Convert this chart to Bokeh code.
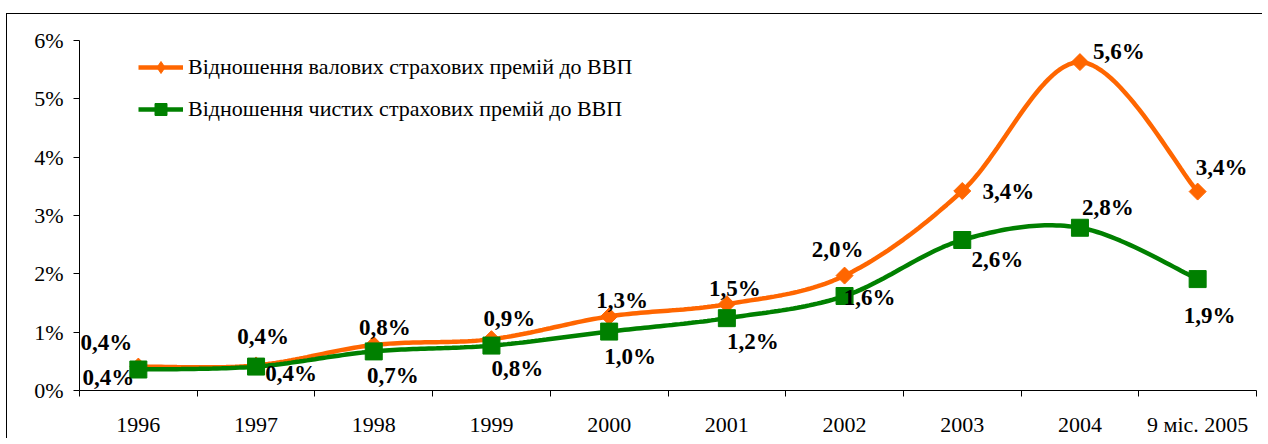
from bokeh.plotting import figure
from bokeh.models import (Range1d, FixedTicker, Legend, LegendItem, ColumnDataSource)
from bokeh.core.properties import value
from bokeh.embed import file_html
from bokeh.resources import INLINE
import numpy as np

# ---- data ----
categories = ["1996", "1997", "1998", "1999", "2000", "2001", "2002", "2003", "2004", "9 міс. 2005"]
gross = [0.41, 0.43, 0.78, 0.88, 1.27, 1.48, 1.97, 3.42, 5.63, 3.41]
net = [0.36, 0.41, 0.67, 0.77, 1.01, 1.24, 1.62, 2.58, 2.79, 1.91]
gross_labels = ["0,4%", "0,4%", "0,8%", "0,9%", "1,3%", "1,5%", "2,0%", "3,4%", "5,6%", "3,4%"]
net_labels = ["0,4%", "0,4%", "0,7%", "0,8%", "1,0%", "1,2%", "1,6%", "2,6%", "2,8%", "1,9%"]
y_ticks = [0, 1, 2, 3, 4, 5, 6]
y_tick_labels = ["0%", "1%", "2%", "3%", "4%", "5%", "6%"]
series_names = ["Відношення валових страхових премій до ВВП",
                "Відношення чистих страхових премій до ВВП"]

# ---- label offsets (screen px) ----
gross_dx = [-32, 7, 11, 18, 13, 8, -7, 46, 39, 24]
gross_dy = [-24, -29, -18, -21, -16, -16, -26, 0, -11, -24]
net_dx = [-30, 35, 19, 26, 21, 26, 25, 35, 28, 12]
net_dy = [8, 7, 24, 23, 25, 23, 1, 19, -20, 36]

ORANGE = "#FF6600"
GREEN = "#008000"
SERIF = "Liberation Serif"

xs = list(range(len(categories)))


def smooth(xv, yv, n=30):
    """Excel-like smoothed line: Catmull-Rom Bezier through the points."""
    P = np.column_stack([xv, yv]).astype(float)
    out = []
    m = len(P)
    for i in range(m - 1):
        p0 = P[i - 1] if i > 0 else P[i]
        p1 = P[i]
        p2 = P[i + 1]
        p3 = P[i + 2] if i + 2 < m else P[i + 1]
        c1 = p1 + (p2 - p0) / 6.0
        c2 = p2 - (p3 - p1) / 6.0
        t = np.linspace(0, 1, n, endpoint=(i == m - 2))[:, None]
        seg = ((1 - t) ** 3) * p1 + 3 * ((1 - t) ** 2) * t * c1 + 3 * (1 - t) * t * t * c2 + t ** 3 * p2
        out.append(seg)
    arr = np.vstack(out)
    return arr[:, 0], arr[:, 1]


p = figure(width=1256, height=425, output_backend="svg", toolbar_location=None,
           x_range=Range1d(-0.5, len(categories) - 0.5), y_range=Range1d(0, 6),
           min_border_left=72, min_border_right=7, min_border_top=26, min_border_bottom=47)
p.styles = {"border-top": "1px solid black", "border-left": "1px solid black",
            "margin-top": "13px", "margin-left": "6px"}
p.outline_line_color = None
p.xgrid.visible = False
p.ygrid.visible = False
p.background_fill_color = "white"
p.border_fill_color = "white"

# x axis: ticks between categories, labels at category centres
xa = p.xaxis[0]
xa.ticker = FixedTicker(ticks=xs, minor_ticks=[x - 0.5 for x in xs] + [xs[-1] + 0.5])
xa.major_label_overrides = {x: c for x, c in zip(xs, categories)}
xa.major_tick_out = 0
xa.major_tick_in = 0
xa.minor_tick_out = 6
xa.minor_tick_in = 0
xa.minor_tick_line_color = "black"
xa.axis_line_color = "black"
xa.major_label_text_font = SERIF
xa.major_label_text_font_size = "22px"
xa.major_label_text_color = "black"
xa.major_label_standoff = 15

ya = p.yaxis[0]
ya.ticker = FixedTicker(ticks=y_ticks, minor_ticks=[])
ya.major_label_overrides = {t: l for t, l in zip(y_ticks, y_tick_labels)}
ya.major_tick_out = 6
ya.major_tick_in = 0
ya.axis_line_color = "black"
ya.major_label_text_font = SERIF
ya.major_label_text_font_size = "22px"
ya.major_label_text_color = "black"
ya.major_label_standoff = 10

gx, gy = smooth(xs, gross)
nx, ny = smooth(xs, net)

g_line = p.line(gx, gy, line_color=ORANGE, line_width=4.5)
n_line = p.line(nx, ny, line_color=GREEN, line_width=4.5)
g_pts = p.scatter(xs, gross, marker="square", angle=np.pi / 4, size=12,
                  fill_color=ORANGE, line_color=ORANGE)
n_pts = p.scatter(xs, net, marker="square", size=17, fill_color=GREEN, line_color=GREEN)
# legend-only diamond glyph (undrawn NaN point)
g_key = p.scatter(x=[np.nan], y=[np.nan], marker="diamond", size=14,
                  fill_color=ORANGE, line_color=ORANGE)

gsrc = ColumnDataSource(dict(x=xs, y=gross, t=gross_labels, dx=gross_dx, dy=gross_dy))
nsrc = ColumnDataSource(dict(x=xs, y=net, t=net_labels, dx=net_dx, dy=net_dy))
for src in (gsrc, nsrc):
    p.text(x="x", y="y", text="t", x_offset="dx", y_offset="dy", source=src,
           text_font=value(SERIF), text_font_size="23px", text_font_style="bold",
           text_color="black", text_align="center", text_baseline="middle")

legend = Legend(items=[LegendItem(label=series_names[0], renderers=[g_line, g_key]),
                       LegendItem(label=series_names[1], renderers=[n_line, n_pts])],
                location=(59, 266))
legend.background_fill_alpha = 0
legend.border_line_color = None
legend.padding = 0
legend.margin = 0
legend.spacing = 12
legend.glyph_width = 45
legend.glyph_height = 30
legend.label_standoff = 5
legend.label_text_font = SERIF
legend.label_text_font_size = "22px"
legend.label_text_color = "black"
p.add_layout(legend, "center")

open("out.html", "w").write(file_html(p, INLINE))
